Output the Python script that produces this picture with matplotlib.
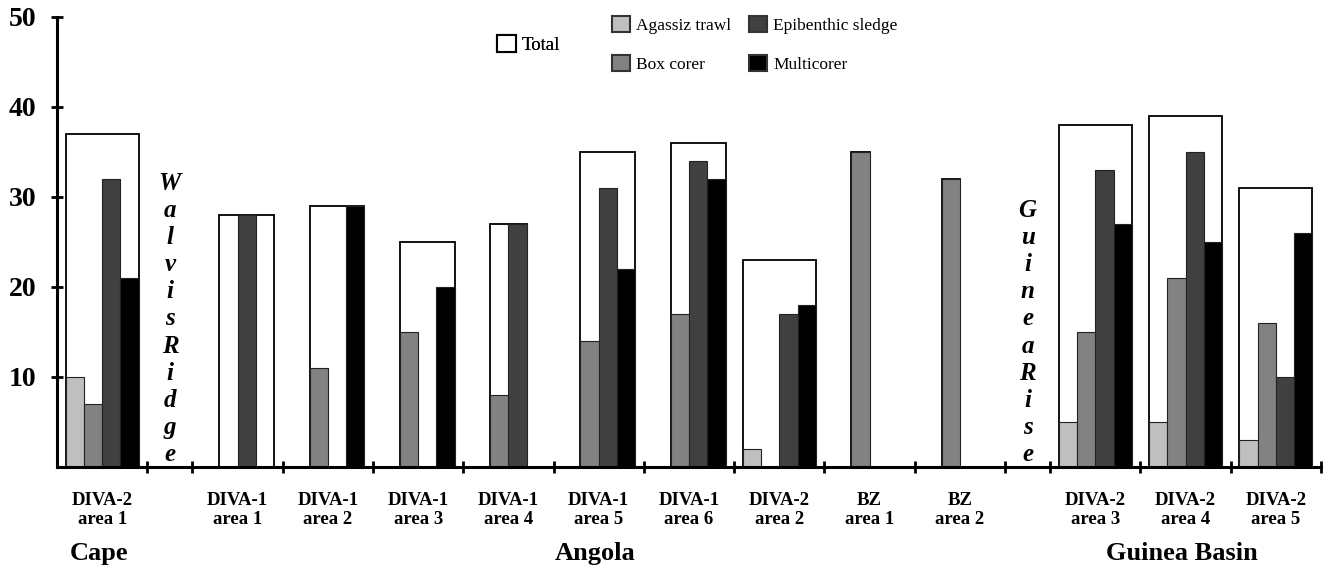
import numpy as np
import matplotlib
matplotlib.use("Agg")
import matplotlib.pyplot as plt
from matplotlib.patches import Patch
from matplotlib.transforms import blended_transform_factory

nan = np.nan

# one slot per station on the x axis, the two ridges are narrow spacer slots
sites = ["DIVA-2\narea 1", "Walvis Ridge", "DIVA-1\narea 1", "DIVA-1\narea 2",
         "DIVA-1\narea 3", "DIVA-1\narea 4", "DIVA-1\narea 5", "DIVA-1\narea 6",
         "DIVA-2\narea 2", "BZ\narea 1", "BZ\narea 2", "Guinea Rise",
         "DIVA-2\narea 3", "DIVA-2\narea 4", "DIVA-2\narea 5"]
ridges = ["Walvis Ridge", "Guinea Rise"]
regions = ["Cape", "Angola", "Guinea Basin"]
region_sites = ["DIVA-2\narea 1", "DIVA-1\narea 5", "DIVA-2\narea 4"]

# nan = gear not used, 0 = gear used but nothing found
total = [37, nan, 28, 29, 25, 27, 35, 36, 23, 35, 32, nan, 38, 39, 31]
agassiz = [10, nan, nan, nan, nan, nan, nan, nan, 2, nan, nan, nan, 5, 5, 3]
box_corer = [7, nan, 0, 11, 15, 8, 14, 17, 0, 35, 32, nan, 15, 21, 16]
epibenthic = [32, nan, 28, 0, 0, 27, 31, 34, 17, nan, nan, nan, 33, 35, 10]
multicorer = [21, nan, 0, 29, 20, nan, 22, 32, 18, nan, nan, nan, 27, 25, 26]

gears = ["Agassiz trawl", "Box corer", "Epibenthic sledge", "Multicorer"]
gear_colors = ["#bfbfbf", "#828282", "#404040", "#000000"]
yticks = [10, 20, 30, 40, 50]

plt.rcParams["font.family"] = ["Liberation Serif", "DejaVu Serif"]

fig = plt.figure(figsize=(13.29, 5.70), dpi=100)
ax = fig.add_axes([57 / 1329, 1 - 467 / 570, 1264 / 1329, 450 / 570])

widths = np.array([0.5 if s in ridges else 1.0 for s in sites])
edges = np.concatenate([[0], np.cumsum(widths)])
centers = edges[:-1] + widths / 2
bw = 0.81 / 4

series = np.array([agassiz, box_corer, epibenthic, multicorer], dtype=float)

# white "total" box spans the gears that were used at the station
for i, s in enumerate(sites):
    if s in ridges:
        continue
    used = np.where(~np.isnan(series[:, i]))[0]
    first, last = used[0], used[-1]
    ax.bar(centers[i] + (first - 2) * bw, total[i], width=(last - first + 1) * bw,
           align="edge", facecolor="white", edgecolor="black", linewidth=1.3, zorder=1)

for k, vals in enumerate(series):
    x = centers + (k - 1.5) * bw
    ok = ~np.isnan(vals) & (np.nan_to_num(vals) > 0)
    ax.bar(x[ok], vals[ok], width=bw, color=gear_colors[k],
           edgecolor="#222222", linewidth=0.8, zorder=2)

# ridge names written top to bottom
for i, s in enumerate(sites):
    if s in ridges:
        ax.text(centers[i], 0.1, "\n".join(s.replace(" ", "")), ha="center", va="bottom",
                fontsize=18, fontweight="bold", fontstyle="italic", linespacing=1.23)

ax.set_xlim(0, edges[-1])
ax.set_ylim(0, 50)
for side in ["top", "right"]:
    ax.spines[side].set_visible(False)
for side in ["left", "bottom"]:
    ax.spines[side].set_linewidth(2.2)

ax.set_yticks(yticks)
ax.set_yticklabels([str(v) for v in yticks], fontsize=20, fontweight="bold")
ax.tick_params(axis="y", direction="inout", length=8, width=2, pad=11)

ax.set_xticks(edges[1:], minor=True)
ax.set_xticks(centers)
ax.set_xticklabels(["" if s in ridges else s for s in sites],
                   fontsize=13.5, fontweight="bold", linespacing=1.12)
ax.tick_params(axis="x", which="major", length=0, pad=18)
ax.tick_params(axis="x", which="minor", direction="inout", length=9, width=2)

trans = blended_transform_factory(ax.transData, fig.transFigure)
for name, s in zip(regions, region_sites):
    ax.text(centers[sites.index(s)] - 0.04, 1 - 560 / 570, name, transform=trans,
            ha="center", va="baseline", fontsize=19, fontweight="bold")

leg1 = fig.legend([Patch(facecolor="white", edgecolor="black", linewidth=1.5)], ["Total"],
                  loc="center left", bbox_to_anchor=(497 / 1329, 1 - 44.5 / 570),
                  frameon=False, fontsize=13.5, handlelength=1.0, handleheight=1.0,
                  handletextpad=0.3, borderpad=0, borderaxespad=0)
handles = [Patch(facecolor=c, edgecolor="#333333", linewidth=1.5) for c in gear_colors]
fig.legend(handles, gears, ncol=2, loc="upper left", bbox_to_anchor=(612 / 1329, 1 - 16 / 570),
           frameon=False, fontsize=12.5, handlelength=1.05, handleheight=1.05,
           handletextpad=0.35, labelspacing=1.2, columnspacing=1.0,
           borderpad=0, borderaxespad=0)
fig.add_artist(leg1)

fig.savefig("out.png", dpi=100)
